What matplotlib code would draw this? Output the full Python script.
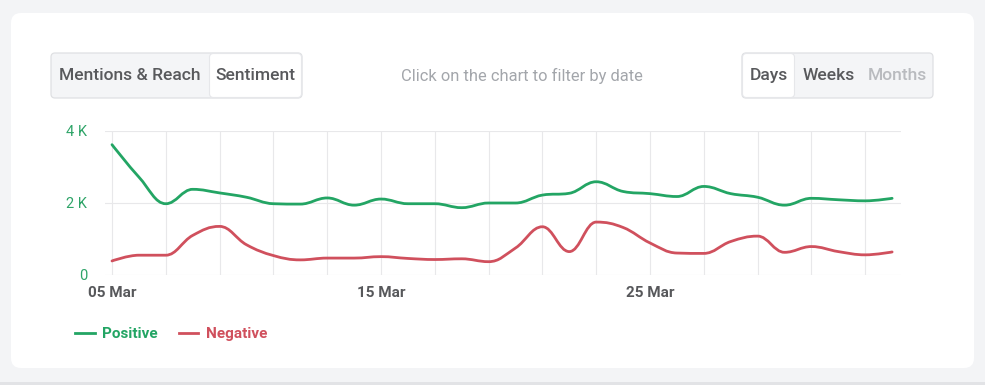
import matplotlib
matplotlib.use('Agg')
import matplotlib.pyplot as plt
from matplotlib.path import Path
from matplotlib.patches import PathPatch, FancyBboxPatch, Rectangle
from matplotlib.lines import Line2D
import numpy as np

plt.rcParams['font.family'] = ['Roboto', 'DejaVu Sans']

# data (daily values, 05 Mar .. 03 Apr)
days = list(range(30))
positive = [3620, 2720, 1980, 2380, 2280, 2160, 1980, 1970, 2140, 1940,
            2110, 1980, 1980, 1870, 2000, 2000, 2220, 2270, 2590, 2320,
            2260, 2180, 2460, 2260, 2160, 1940, 2130, 2090, 2060, 2130]
negative = [390, 550, 550, 1100, 1350, 840, 540, 420, 470, 470,
            510, 460, 430, 450, 370, 750, 1340, 650, 1470, 1320,
            890, 610, 600, 930, 1080, 630, 790, 650, 560, 640]
series_names = ['Positive', 'Negative']
series_colors = ['#23a564', '#d0505d']
tick_days = [0, 10, 20]
tick_labels = ['05 Mar', '15 Mar', '25 Mar']
ytick_vals = [0, 2000, 4000]
ytick_labels = ['0', '2 K', '4 K']


def spline_path(xs, ys, smoothing=1.5):
    # highcharts-like spline: cubic bezier through every point
    n = len(xs)
    left = [None] * n
    right = [None] * n
    denom = smoothing + 1
    for i in range(1, n - 1):
        x, y = xs[i], ys[i]
        lx, ly = xs[i - 1], ys[i - 1]
        nx, ny = xs[i + 1], ys[i + 1]
        lcx = (smoothing * x + lx) / denom
        lcy = (smoothing * y + ly) / denom
        rcx = (smoothing * x + nx) / denom
        rcy = (smoothing * y + ny) / denom
        corr = (rcy - lcy) * (rcx - x) / (rcx - lcx) + y - rcy
        lcy += corr
        rcy += corr
        if lcy > ly and lcy > y:
            lcy = max(ly, y); rcy = 2 * y - lcy
        elif lcy < ly and lcy < y:
            lcy = min(ly, y); rcy = 2 * y - lcy
        if rcy > ny and rcy > y:
            rcy = max(ny, y); lcy = 2 * y - rcy
        elif rcy < ny and rcy < y:
            rcy = min(ny, y); lcy = 2 * y - rcy
        left[i] = (lcx, lcy)
        right[i] = (rcx, rcy)
    verts = [(xs[0], ys[0])]
    codes = [Path.MOVETO]
    for i in range(1, n):
        c1 = right[i - 1] if right[i - 1] is not None else (xs[i - 1], ys[i - 1])
        c2 = left[i] if left[i] is not None else (xs[i], ys[i])
        verts += [c1, c2, (xs[i], ys[i])]
        codes += [Path.CURVE4] * 3
    return Path(verts, codes)


W, H = 985, 385
fig = plt.figure(figsize=(W / 100, H / 100), dpi=100)
fig.patch.set_facecolor('#f3f4f6')

# background layer in pixel coords
bg = fig.add_axes([0, 0, 1, 1])
bg.set_xlim(0, W)
bg.set_ylim(H, 0)
bg.axis('off')
bg.add_patch(Rectangle((0, 382), W, 3, facecolor='#e2e3e6', edgecolor='none'))
bg.add_patch(FancyBboxPatch((11, 13), 963, 355, boxstyle='round,pad=0,rounding_size=10',
                            facecolor='white', edgecolor='none'))


def button_group(x0, widths, labels, active, colors):
    total = sum(widths)
    bg.add_patch(FancyBboxPatch((x0, 53), total, 45, boxstyle='round,pad=0,rounding_size=4',
                                facecolor='#f4f5f7', edgecolor='#dfe0e3', lw=0.9))
    x = x0
    for w, lab, c in zip(widths, labels, colors):
        if lab == active:
            bg.add_patch(FancyBboxPatch((x + 0.5, 53.5), w - 1, 44,
                                        boxstyle='round,pad=0,rounding_size=4',
                                        facecolor='white', edgecolor='#e6e7ea', lw=0.8))
        bg.text(x + w / 2, 75.5, lab, ha='center', va='center', fontsize=12.6,
                fontweight='medium', color=c)
        x += w


button_group(51, [158, 93], ['Mentions & Reach', 'Sentiment'], 'Sentiment', ['#58595c', '#58595c'])
button_group(742, [53, 67, 71], ['Days', 'Weeks', 'Months'], 'Days', ['#58595c', '#58595c', '#b9bbbf'])
bg.text(522, 76, 'Click on the chart to filter by date', ha='center', va='center',
        fontsize=11.9, color='#a3a6ab')

# chart
ax = fig.add_axes([105 / W, 110 / H, 796 / W, 144 / H])
ax.set_facecolor('none')
for xs_vals, col in zip([positive, negative], series_colors):
    p = spline_path(days, xs_vals)
    ax.add_patch(PathPatch(p, facecolor='none', edgecolor=col, lw=2.0, capstyle='round',
                           joinstyle='round', zorder=3))
ax.set_xlim(-0.26, 29.33)
ax.set_ylim(0, 4000)
ax.set_xticks(tick_days)
ax.set_xticklabels(tick_labels, fontsize=11, fontweight='bold', color='#57585b')
ax.set_xticks(days[::2], minor=True)
ax.set_yticks(ytick_vals)
ax.set_yticklabels(ytick_labels, fontsize=10.5, color='#2ea468')
ax.tick_params(axis='both', which='both', length=0)
ax.tick_params(axis='x', pad=8)
ax.tick_params(axis='y', pad=13)
ax.grid(True, axis='x', which='both', color='#e8e8ea', lw=0.8)
ax.grid(True, axis='y', which='major', color='#e8e8ea', lw=0.8)
ax.set_axisbelow(True)
for s in ax.spines.values():
    s.set_visible(False)

handles = [Line2D([], [], color=c, lw=2.0) for c in series_colors]
leg = ax.legend(handles, series_names, loc='center left', bbox_to_anchor=(61 / W, 1 - 334 / H),
                bbox_transform=fig.transFigure, ncol=2, frameon=False,
                handlelength=1.3, handletextpad=0.5, columnspacing=1.35,
                prop={'weight': 'bold', 'size': 11})
for t, c in zip(leg.get_texts(), series_colors):
    t.set_color(c)

fig.savefig('out.png', dpi=100, facecolor=fig.get_facecolor())
